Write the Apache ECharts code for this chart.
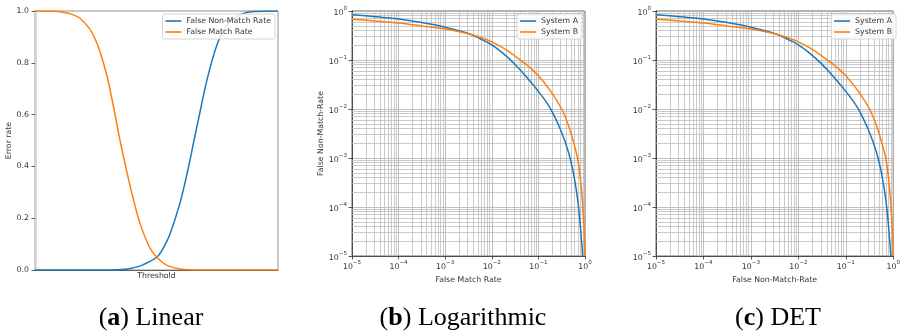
<!DOCTYPE html>
<html>
<head>
<meta charset="utf-8">
<script src="https://cdn.jsdelivr.net/npm/echarts@6/dist/echarts.min.js"></script>
<style>
  html, body { margin: 0; padding: 0; background: #fff; }
  #chart { width: 903px; height: 334px; }
</style>
</head>
<body>
<div id="chart"></div>
<script>
// (a) linear: error rates vs normalised threshold
const fnmrThreshold = [0, 0.31, 0.37, 0.403, 0.444, 0.502, 0.53, 0.556, 0.597, 0.63, 0.65, 0.679, 0.708, 0.749, 0.79, 0.844, 0.897, 1];
const fnmrValues    = [0, 0, 0.003, 0.008, 0.02, 0.05, 0.088, 0.14, 0.26, 0.39, 0.48, 0.61, 0.735, 0.87, 0.945, 0.985, 0.998, 1];
const fmrThreshold  = [0, 0.08, 0.115, 0.15, 0.185, 0.226, 0.246, 0.267, 0.296, 0.321, 0.35, 0.379, 0.403, 0.432, 0.473, 0.502, 0.543, 0.597, 0.68, 1];
const fmrValues     = [1, 0.999, 0.995, 0.988, 0.972, 0.93, 0.895, 0.845, 0.75, 0.64, 0.5, 0.375, 0.28, 0.18, 0.085, 0.048, 0.018, 0.004, 0, 0];
const linearTicks   = [0, 0.2, 0.4, 0.6, 0.8, 1.0];

// (b)/(c) log curves: false match rate vs false non-match rate
const sysA_fmr  = [1e-5, 3.16e-5, 1e-4, 3.16e-4, 1e-3, 3.16e-3, 5.62e-3, 0.01, 0.0178, 0.0316, 0.0562, 0.1, 0.178, 0.316, 0.447, 0.562, 0.708, 0.813, 0.891];
const sysA_fnmr = [0.841, 0.767, 0.684, 0.582, 0.468, 0.347, 0.272, 0.204, 0.135, 0.0813, 0.0447, 0.0229, 0.0105, 0.00331, 0.00126, 5.01e-4, 1.26e-4, 3.16e-5, 1e-5];
const sysB_fmr  = [1e-5, 3.16e-5, 1e-4, 3.16e-4, 1e-3, 3.16e-3, 5.62e-3, 0.01, 0.0178, 0.0316, 0.0562, 0.1, 0.178, 0.316, 0.447, 0.562, 0.708, 0.832, 0.912, 0.966, 0.993];
const sysB_fnmr = [0.676, 0.624, 0.569, 0.495, 0.427, 0.343, 0.292, 0.234, 0.174, 0.12, 0.0794, 0.0479, 0.024, 0.01, 0.00447, 0.00219, 8.91e-4, 2.51e-4, 7.94e-5, 2.51e-5, 1e-5];
const decades   = [1e-5, 1e-4, 1e-3, 1e-2, 1e-1];
const minorMult = [2, 3, 4, 5, 6, 7, 8, 9];

const BLUE = '#1f77b4', ORANGE = '#ff7f0e';
const FONT = 'DejaVu Sans';
const FS = 7.8;

const zip = (xs, ys) => xs.map((x, i) => [x, ys[i]]);
const minorVals = [];
decades.forEach(d => minorMult.forEach(m => minorVals.push(+(d * m).toPrecision(3))));

const supLabel = v => {
  const e = Math.round(Math.log10(v));
  return '{b|10}{s|' + (e < 0 ? '\u2212' + (-e) : e) + '}';
};
const supRich = {
  b: { fontSize: FS, fontFamily: FONT, color: '#333', verticalAlign: 'bottom', lineHeight: 11 },
  s: { fontSize: 5.6, fontFamily: FONT, color: '#333', verticalAlign: 'top', lineHeight: 11 }
};

function logAxis(idx, name, gap, isY) {
  return {
    type: 'log', logBase: 10, gridIndex: idx, min: 1e-5, max: 1,
    name: name, nameLocation: 'middle', nameGap: gap,
    nameTextStyle: { fontFamily: FONT, fontSize: FS, color: '#333' },
    axisLine: { show: true, lineStyle: { color: '#333', width: 0.8 } },
    axisTick: { show: true, length: 3.5, lineStyle: { color: '#333', width: 0.8 } },
    axisLabel: { margin: isY ? 5 : 4, formatter: supLabel, rich: supRich },
    splitLine: { show: true, lineStyle: { color: '#b0b0b0', width: 0.8 } },
    minorTick: { show: false }
  };
}

// minor grid lines at 2..9 x 10^k, placed through the log axes
function gridLines(idx) {
  return {
    type: 'line', xAxisIndex: idx, yAxisIndex: idx, data: [], silent: true, z: 1,
    markLine: {
      z: 1, silent: true, animation: false, symbol: ['none', 'none'], precision: 10,
      label: { show: false },
      lineStyle: { color: '#bdbdbd', width: 0.8, type: 'solid' },
      emphasis: { disabled: true },
      data: minorVals.map(v => ({ xAxis: v })).concat(minorVals.map(v => ({ yAxis: v })))
    }
  };
}

function curve(name, idx, xs, ys, color, smooth) {
  return {
    name: name, type: 'line', xAxisIndex: idx, yAxisIndex: idx,
    data: zip(xs, ys), showSymbol: false, symbol: 'none',
    smooth: smooth, z: 3,
    lineStyle: { color: color, width: 1.5 }, itemStyle: { color: color }
  };
}

function legendBox(names, right) {
  return {
    data: names.map(n => ({ name: n, icon: 'rect' })), orient: 'vertical', right: right, top: 14,
    itemWidth: 16, itemHeight: 1.6, itemGap: 3, padding: [3, 4, 3, 3],
    backgroundColor: 'rgba(255,255,255,0.85)', borderColor: '#cccccc', borderWidth: 0.8, borderRadius: 2,
    textStyle: { fontFamily: FONT, fontSize: FS, color: '#333', lineHeight: 8 }
  };
}

const chart = echarts.init(document.getElementById('chart'));
chart.setOption({
  animation: false,
  backgroundColor: '#fff',
  grid: [
    { left: 35, top: 11, width: 243, height: 259, show: true, borderColor: '#777', borderWidth: 0.8 },
    { left: 352, top: 11, width: 233, height: 245, show: true, borderColor: '#444', borderWidth: 0.8 },
    { left: 656, top: 11, width: 241, height: 245, show: true, borderColor: '#444', borderWidth: 0.8 }
  ],
  legend: [
    legendBox(['False Non-Match Rate', 'False Match Rate'], 628),
    legendBox(['System A', 'System B'], 321),
    legendBox(['System A', 'System B'], 7)
  ],
  xAxis: [
    {
      type: 'value', gridIndex: 0, min: 0, max: 1,
      name: 'Threshold', nameLocation: 'middle', nameGap: 2,
      nameTextStyle: { fontFamily: FONT, fontSize: FS, color: '#333' },
      axisLine: { show: true, lineStyle: { color: '#444', width: 0.8 } },
      axisTick: { show: false }, axisLabel: { show: false }, splitLine: { show: false }
    },
    logAxis(1, 'False Match Rate', 15, false),
    logAxis(2, 'False Non-Match-Rate', 15, false)
  ],
  yAxis: [
    {
      type: 'value', gridIndex: 0, min: 0, max: 1, interval: 0.2,
      name: 'Error rate', nameLocation: 'middle', nameGap: 20,
      nameTextStyle: { fontFamily: FONT, fontSize: FS, color: '#333' },
      axisLine: { show: true, lineStyle: { color: '#cfcfcf', width: 2.5 } },
      axisTick: { show: true, length: 3.5, lineStyle: { color: '#333', width: 0.8 } },
      axisLabel: { margin: 6, fontFamily: FONT, fontSize: FS, color: '#333',
        formatter: v => linearTicks.includes(+v.toFixed(1)) ? v.toFixed(1) : '' },
      splitLine: { show: false }
    },
    logAxis(1, 'False Non-Match-Rate', 27, true),
    logAxis(2, '', 27, true)
  ],
  series: [
    curve('False Non-Match Rate', 0, fnmrThreshold, fnmrValues, BLUE, 0.35),
    curve('False Match Rate', 0, fmrThreshold, fmrValues, ORANGE, 0.35),
    gridLines(1),
    curve('System A', 1, sysA_fmr, sysA_fnmr, BLUE, 0.35),
    curve('System B', 1, sysB_fmr, sysB_fnmr, ORANGE, 0.35),
    gridLines(2),
    curve('System A', 2, sysA_fmr, sysA_fnmr, BLUE, 0.35),
    curve('System B', 2, sysB_fmr, sysB_fnmr, ORANGE, 0.35)
  ],
  graphic: [
    ['a', ') Linear', 151],
    ['b', ') Logarithmic', 463],
    ['c', ') DET', 778]
  ].map(([letter, rest, x]) => ({
    type: 'text', x: x, y: 318, silent: true,
    style: {
      text: '{p|(}{k|' + letter + '}{p|' + rest + '}',
      align: 'center', verticalAlign: 'middle',
      rich: {
        p: { fontFamily: 'Liberation Serif', fontSize: 26, fill: '#000' },
        k: { fontFamily: 'Liberation Serif', fontSize: 26, fontWeight: 'bold', fill: '#000' }
      }
    }
  }))
});
</script>
</body>
</html>
